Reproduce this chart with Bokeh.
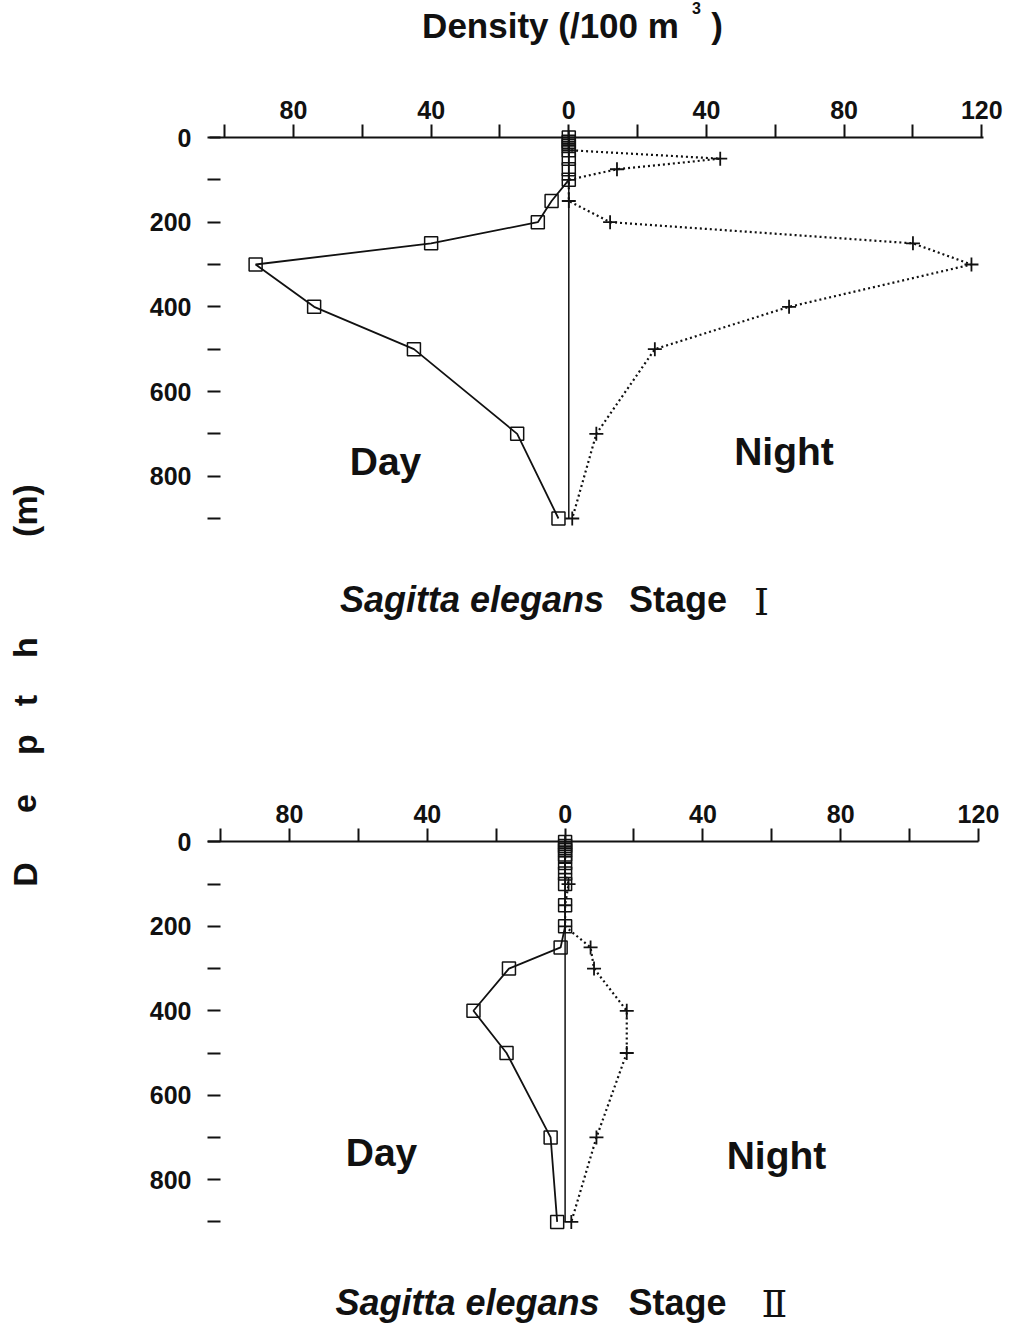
import math
from bokeh.plotting import figure
from bokeh.models import Range1d, FixedTicker, Label
from bokeh.layouts import row, column
from bokeh.embed import file_html
from bokeh.resources import INLINE

# ---------------- data ----------------
depths = [0, 10, 20, 30, 50, 75, 100, 150, 200, 250, 300, 400, 500, 700, 900]

day_stage1 = [0, 0, 0, 0, 0, 0, 0, 5, 9, 40, 91, 74, 45, 15, 3]
night_stage1 = [0, 0, 0, 0, 44, 14, 0, 0, 12, 100, 117, 64, 25, 8, 1]

day_stage2 = [0, 0, 0, 0, 0, 0, 0, 0, 0, 1.3, 16.3, 26.6, 17, 4.2, 2.3]
night_stage2 = [0, 0, 0, 0, 0, 0, 1, 0, 0, 7.4, 8.4, 17.9, 17.9, 9.1, 1.8]

x_ticks = [-100, -80, -60, -40, -20, 0, 20, 40, 60, 80, 100, 120]
x_tick_labels = {-100: "", -80: "80", -60: "", -40: "40", -20: "", 0: "0",
                 20: "", 40: "40", 60: "", 80: "80", 100: "", 120: "120"}
depth_ticks = [0, 100, 200, 300, 400, 500, 600, 700, 800, 900]
depth_tick_labels = {0: "0", 100: "", 200: "200", 300: "", 400: "400", 500: "",
                     600: "600", 700: "", 800: "800", 900: ""}

INK = "#111111"
FONT = "Liberation Sans"
K_BASE = 0.37    # empirical alphabetic-baseline correction (fraction of font size)

PAGE_H = 1336
COL_X = 68        # x where the panel column starts
PANEL_W = 936
FRAME_L = 207     # common frame left edge (page px)
FRAME_R = 1004    # common frame right edge (page px)
TITLE_H = 48

# per panel: pixel of x=0, px per unit, axis bounds, depth-0 pixel, px per metre
G1 = dict(fig_top=TITLE_H, fig_h=668 - TITLE_H, frame_top=TITLE_H + 46, zero=137.0,
          s=381 / 900, x_zero=568.3, sx=774 / 224.9, bounds=(-104.4, 120.5))
G2 = dict(fig_top=668, fig_h=668, frame_top=768, zero=841.4,
          s=380 / 900, x_zero=564.6, sx=773 / 224.4, bounds=(-103.8, 120.0))


def to_data(g, px, py):
    return (px - g["x_zero"]) / g["sx"], (py - g["zero"]) / g["s"]


def make_panel(g, day, night):
    bl = FRAME_L - COL_X
    bt = g["frame_top"] - g["fig_top"]
    frame_bottom = g["fig_top"] + g["fig_h"]
    x_start, _ = to_data(g, FRAME_L, 0)
    x_end, _ = to_data(g, FRAME_R, 0)
    _, y_top = to_data(g, 0, g["frame_top"])
    _, y_bot = to_data(g, 0, frame_bottom)
    p = figure(width=PANEL_W, height=g["fig_h"],
               x_range=Range1d(x_start, x_end), y_range=Range1d(y_bot, y_top),
               x_axis_location="above", output_backend="svg", toolbar_location=None,
               min_border_top=bt, min_border_bottom=0,
               min_border_left=bl, min_border_right=0)
    p.outline_line_color = None
    p.grid.visible = False
    p.background_fill_color = "white"
    p.border_fill_color = "white"

    xa = p.xaxis[0]
    xa.fixed_location = 0
    xa.bounds = g["bounds"]
    xa.ticker = FixedTicker(ticks=x_ticks, minor_ticks=[])
    xa.major_label_overrides = x_tick_labels
    xa.major_tick_out = 13
    xa.major_tick_in = 0
    xa.minor_tick_out = 0
    xa.minor_tick_in = 0
    xa.axis_line_width = 2
    xa.axis_line_color = INK
    xa.major_tick_line_width = 2
    xa.major_tick_line_color = INK
    xa.major_label_text_font = FONT
    xa.major_label_text_font_size = "25px"
    xa.major_label_text_font_style = "bold"
    xa.major_label_text_color = INK
    xa.major_label_standoff = 6

    ya = p.yaxis[0]
    ya.ticker = FixedTicker(ticks=depth_ticks, minor_ticks=[])
    ya.major_label_overrides = depth_tick_labels
    ya.axis_line_color = None
    ya.major_tick_in = 13
    ya.major_tick_out = 0
    ya.minor_tick_in = 0
    ya.minor_tick_out = 0
    ya.major_tick_line_width = 2
    ya.major_tick_line_color = INK
    ya.major_label_text_font = FONT
    ya.major_label_text_font_size = "25px"
    ya.major_label_text_font_style = "bold"
    ya.major_label_text_color = INK
    ya.major_label_standoff = 16

    # zero line from surface to deepest sample
    p.segment(x0=[0], y0=[depths[0]], x1=[0], y1=[depths[-1]],
              line_color=INK, line_width=1.5)

    day_x = [-v for v in day]
    p.line(day_x, depths, line_color=INK, line_width=1.8)
    p.scatter(day_x, depths, marker="square", size=13, fill_color=None,
              line_color=INK, line_width=1.5)

    p.line(night, depths, line_color=INK, line_width=2.2, line_dash="2 3")
    p.scatter(night, depths, marker="cross", size=14, line_color=INK, line_width=1.8)
    return p


def add_text(p, g, px, py, text, size, style="bold", font=FONT):
    x, y = to_data(g, px, py - K_BASE * size)
    p.add_layout(Label(x=x, y=y, text=text, text_align="center", text_baseline="alphabetic",
                       text_font=font, text_font_size=f"{size}px", text_font_style=style,
                       text_color=INK))


def blank_fig(w, h, x_start, x_end, y_bottom, y_top, left=0):
    f = figure(width=w, height=h, x_range=Range1d(x_start, x_end),
               y_range=Range1d(y_bottom, y_top), x_axis_type=None, y_axis_type=None,
               output_backend="svg", toolbar_location=None, min_border=0,
               min_border_left=left, min_border_right=0, min_border_top=0, min_border_bottom=0)
    f.outline_line_color = None
    f.grid.visible = False
    return f


def add_px_text(f, px, py, text, size, style="bold", font=FONT, rotated=False):
    if rotated:
        px, py, angle = px - K_BASE * size, py, math.pi / 2
    else:
        py, angle = py - K_BASE * size, 0.0
    f.add_layout(Label(x=px, y=py, text=text, angle=angle, text_align="center",
                       text_baseline="alphabetic", text_font=font,
                       text_font_size=f"{size}px", text_font_style=style, text_color=INK))


p1 = make_panel(G1, day_stage1, night_stage1)
p2 = make_panel(G2, day_stage2, night_stage2)

# title strip (data coordinates == page pixels)
title_fig = blank_fig(PANEL_W, TITLE_H, FRAME_L, FRAME_R, TITLE_H, 0, left=FRAME_L - COL_X)
add_px_text(title_fig, 550, 38, "Density (/100 m", 35)
add_px_text(title_fig, 696, 13, "3", 16)
add_px_text(title_fig, 716.5, 38, ")", 35)

# panel 1 texts
add_text(p1, G1, 385, 475, "Day", 39)
add_text(p1, G1, 783.5, 465, "Night", 39)
add_text(p1, G1, 471.5, 612, "Sagitta elegans", 36, style="bold italic")
add_text(p1, G1, 677.5, 612, "Stage", 36)
add_text(p1, G1, 761, 616, "Ⅰ", 38, style="normal", font="DejaVu Serif")

# panel 2 texts
add_text(p2, G2, 381, 1166, "Day", 39)
add_text(p2, G2, 776, 1169, "Night", 39)
add_text(p2, G2, 467, 1315, "Sagitta elegans", 36, style="bold italic")
add_text(p2, G2, 677, 1315, "Stage", 36)
add_text(p2, G2, 774, 1318, "Ⅱ", 38, style="normal", font="DejaVu Serif")

# side strip with the vertical "Depth (m)" label
side = blank_fig(COL_X, PAGE_H, 0, COL_X, PAGE_H, 0)
for ch, cy in [("D", 874), ("e", 803), ("p", 744), ("t", 700), ("h", 647), ("(m)", 510)]:
    add_px_text(side, 37, cy, ch, 34, rotated=True)

layout = row(side, column(title_fig, p1, p2))
open("out.html", "w").write(file_html(layout, INLINE))
